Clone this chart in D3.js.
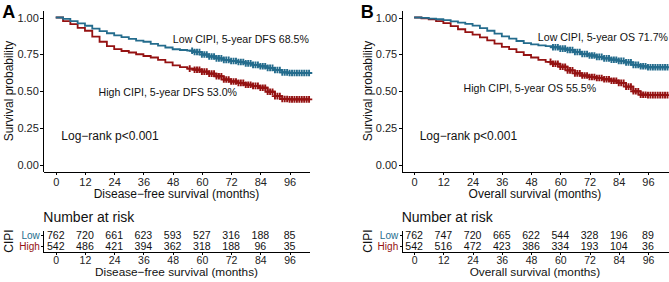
<!DOCTYPE html>
<html>
<head>
<meta charset="UTF-8">
<script src="https://cdn.jsdelivr.net/npm/d3@7"></script>
<style>
  body { margin: 0; background: #fff; }
  text { font-family: "Liberation Sans", Arial, sans-serif; }
  .axis path, .axis line { stroke: #000; shape-rendering: crispEdges; }
  .axis text { fill: #222; }
</style>
</head>
<body>
<div id="chart"></div>
<script>
// months grid shared by all four curves
var months = [0,3,6,9,12,15,18,21,24,27,30,33,36,39,42,45,48,51,54,57,60,63,66,69,72,75,78,81,84,87,90,93,96,99,102,104];

var lowA  = [1.000,0.990,0.975,0.960,0.944,0.925,0.907,0.893,0.878,0.866,0.855,0.843,0.835,0.820,0.808,0.796,0.784,0.779,0.774,0.765,0.748,0.735,0.722,0.712,0.704,0.697,0.688,0.678,0.668,0.657,0.643,0.627,0.622,0.622,0.622,0.622];
var highA = [1.000,0.975,0.955,0.930,0.910,0.870,0.835,0.805,0.785,0.772,0.762,0.750,0.738,0.728,0.712,0.695,0.675,0.662,0.652,0.645,0.632,0.618,0.600,0.578,0.565,0.555,0.543,0.535,0.522,0.495,0.465,0.446,0.443,0.443,0.443,0.443];
var lowB  = [1.000,0.997,0.993,0.988,0.982,0.973,0.965,0.956,0.945,0.928,0.910,0.890,0.872,0.856,0.840,0.826,0.817,0.810,0.805,0.798,0.788,0.779,0.765,0.752,0.742,0.732,0.722,0.713,0.705,0.695,0.678,0.668,0.662,0.662,0.662,0.662];
var highB = [1.000,0.994,0.988,0.975,0.962,0.942,0.920,0.900,0.883,0.865,0.845,0.822,0.800,0.785,0.765,0.745,0.728,0.712,0.698,0.685,0.665,0.640,0.620,0.605,0.595,0.588,0.580,0.570,0.555,0.530,0.498,0.475,0.472,0.472,0.472,0.472];

// censoring times (months)
var censLowA  = [56,57,58,59,60,61,62,63,64,65,66,67,68,69,70,71,72,73,74,75,76,77,78,79,80,81,82,83,84,85,86,87,88,89,90,91,92,93,94,95,96,97,98,99,100,101,102,103,104];
var censHighA = [55,57,58,59,60,61,62,63,64,65,66,67,68,69,70,71,72,73,74,75,76,77,78,79,80,81,82,83,84,85,86,87,88,89,90,91,92,93,94,95,96,97,98,99,100,101,102,103,104];
var censLowB  = [57,58,59,60,61,62,63,64,65,66,67,68,69,70,71,72,73,74,75,76,77,78,79,80,81,82,83,84,85,86,87,88,89,90,91,92,93,94,95,96,97,98,99,100,101,102,103,104];
var censHighB = [56,57,58,59,60,61,62,63,64,65,66,67,68,69,70,71,72,73,74,75,76,77,78,79,80,81,82,83,84,85,86,87,88,89,90,91,92,93,94,95,96,97,98,99,100,101,102,103,104];

var xTicks = [0,12,24,36,48,60,72,84,96];
var yTicks = [0,0.25,0.5,0.75,1];
var groups = ["Low","High"];

var riskLowA  = [762,720,661,623,593,527,316,188,85];
var riskHighA = [542,486,421,394,362,318,188,96,35];
var riskLowB  = [762,747,720,665,622,544,328,196,89];
var riskHighB = [542,516,472,423,386,334,193,104,36];

var blue = "#246c8d", red = "#951212";

var svg = d3.select("#chart").append("svg")
  .attr("width", 669).attr("height", 282);
svg.append("rect").attr("width", 669).attr("height", 282).attr("fill", "#fff");

function drawPanel(cfg) {
  var ax = cfg.ax;
  var g = svg.append("g");

  var x = d3.scaleLinear().domain([-5.1, 104.3]).range([ax, ax + 266.5]);
  var y = d3.scaleLinear().domain([-0.05, 1.05]).range([171.85, 10.15]);

  // axes
  g.append("g").attr("class", "axis")
    .attr("transform", "translate(0,171.85)")
    .call(d3.axisBottom(x).tickValues(xTicks).tickSize(3).tickPadding(3).tickSizeOuter(0))
    .selectAll("text").style("font-size", "11px");
  g.append("g").attr("class", "axis")
    .attr("transform", "translate(" + ax + ",0)")
    .call(d3.axisLeft(y).tickValues(yTicks).tickFormat(d3.format(".2f")).tickSize(3).tickPadding(1.5).tickSizeOuter(0))
    .selectAll("text").style("font-size", "11px");

  // curves
  var line = d3.line()
    .x(function(d) { return x(d[0]); })
    .y(function(d) { return y(d[1]); })
    .curve(d3.curveStepAfter);

  var series = [
    { surv: cfg.high, cens: cfg.censHigh, color: red },
    { surv: cfg.low, cens: cfg.censLow, color: blue }
  ];
  series.forEach(function(s) {
    var pts = months.map(function(m, i) { return [m, s.surv[i]]; });
    g.append("path")
      .attr("d", line(pts))
      .attr("fill", "none")
      .attr("stroke", s.color)
      .attr("stroke-width", 1.8);
    var bis = d3.bisector(function(d) { return d[0]; }).right;
    g.append("g").selectAll("path")
      .data(s.cens).enter()
      .append("path")
      .attr("d", function(t) {
        var v = pts[Math.max(0, bis(pts, t) - 1)][1];
        var cx = x(t), cy = y(v);
        return "M" + (cx - 3.2) + "," + cy + "h6.4M" + cx + "," + (cy - 3.3) + "v6.6";
      })
      .attr("stroke", s.color)
      .attr("stroke-width", 1.9);
  });

  // annotations
  g.append("text").attr("x", x(cfg.lowLab[0])).attr("y", y(cfg.lowLab[1]))
    .attr("text-anchor", "middle").style("font-size", "10.6px").attr("fill", "#111")
    .text(cfg.lowText);
  g.append("text").attr("x", x(cfg.highLab[0])).attr("y", y(cfg.highLab[1]))
    .attr("text-anchor", "middle").style("font-size", "10.6px").attr("fill", "#111")
    .text(cfg.highText);
  g.append("text").attr("x", ax + 18).attr("y", 140)
    .style("font-size", "12px").attr("fill", "#111")
    .text("Log\u2212rank p<0.001");

  // titles
  g.append("text")
    .attr("transform", "translate(" + (ax - 34.3) + ",91) rotate(-90)")
    .attr("text-anchor", "middle").attr("dy", "0.35em")
    .style("font-size", "12px").attr("fill", "#111")
    .text("Survival probability");
  g.append("text")
    .attr("x", ax + 133.2).attr("y", 197.5)
    .attr("text-anchor", "middle")
    .style("font-size", "12px").attr("fill", "#111")
    .text(cfg.xTitle);
  g.append("text")
    .attr("x", ax - 41).attr("y", 17.5)
    .style("font-size", "18px").style("font-weight", "bold").attr("fill", "#000")
    .text(cfg.letter);

  // risk table
  g.append("text").attr("x", ax).attr("y", 222)
    .style("font-size", "14px").attr("fill", "#111")
    .text("Number at risk");

  var yr = d3.scaleBand().domain(groups).range([230, 252]);
  g.append("g").attr("class", "axis")
    .attr("transform", "translate(" + ax + ",0)")
    .call(d3.axisLeft(yr).tickSize(2).tickPadding(1.5).tickSizeOuter(0))
    .selectAll("text")
    .style("font-size", "10px")
    .style("fill", function(d) { return d === "Low" ? blue : red; });
  g.append("g").attr("class", "axis")
    .attr("transform", "translate(0,252)")
    .call(d3.axisBottom(x).tickValues(xTicks).tickSize(3).tickPadding(1.5).tickSizeOuter(0))
    .selectAll("text").style("font-size", "10.5px");

  [[cfg.riskLow, "Low"], [cfg.riskHigh, "High"]].forEach(function(r) {
    g.append("g").selectAll("text")
      .data(r[0]).enter()
      .append("text")
      .attr("x", function(d, i) { return x(xTicks[i]); })
      .attr("y", yr(r[1]) + yr.bandwidth() / 2)
      .attr("dy", "0.36em")
      .attr("text-anchor", "middle")
      .style("font-size", "10.6px").attr("fill", "#111")
      .text(function(d) { return d; });
  });

  g.append("text")
    .attr("transform", "translate(" + (ax - 34.3) + ",241) rotate(-90)")
    .attr("text-anchor", "middle").attr("dy", "0.35em")
    .style("font-size", "12px").attr("fill", "#111")
    .text("CIPI");
  g.append("text")
    .attr("x", ax + 133.2).attr("y", 275.5)
    .attr("text-anchor", "middle")
    .style("font-size", "11.8px").attr("fill", "#111")
    .text(cfg.xTitle);
}

drawPanel({
  ax: 43.3, letter: "A", xTitle: "Disease\u2212free survival (months)",
  low: lowA, high: highA, censLow: censLowA, censHigh: censHighA,
  riskLow: riskLowA, riskHigh: riskHighA,
  lowText: "Low CIPI, 5-year DFS 68.5%", lowLab: [76, 0.825],
  highText: "High CIPI, 5-year DFS 53.0%", highLab: [46, 0.468]
});
drawPanel({
  ax: 401.7, letter: "B", xTitle: "Overall survival (months)",
  low: lowB, high: highB, censLow: censLowB, censHigh: censHighB,
  riskLow: riskLowB, riskHigh: riskHighB,
  lowText: "Low CIPI, 5-year OS 71.7%", lowLab: [77.5, 0.842],
  highText: "High CIPI, 5-year OS 55.5%", highLab: [47.5, 0.491]
});
</script>
</body>
</html>
